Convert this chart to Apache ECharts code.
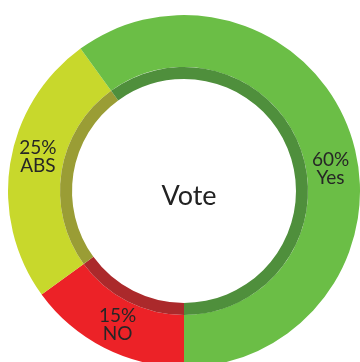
<!DOCTYPE html>
<html>
<head>
<meta charset="utf-8">
<script src="https://cdn.jsdelivr.net/npm/echarts@6/dist/echarts.min.js"></script>
<style>
  html, body { margin: 0; padding: 0; background: #fff; }
  #chart { width: 360px; height: 362px; }
</style>
</head>
<body>
<div id="chart"></div>
<script>
  // data
  const categories = ['NO', 'ABS', 'Yes'];
  const values = [15, 25, 60];
  const colors = ['#ec2227', '#c8d82c', '#6bbe46'];
  const shadeColors = ['#ab292b', '#9a9d35', '#4f8f3c'];
  const centerTitle = 'Vote';

  // label nudges so text sits like the original
  const labelShift = [
    { dx: 3, dy: -2 },
    { dx: 5, dy: -10 },
    { dx: 1, dy: 25 },
  ];

  const chart = echarts.init(document.getElementById('chart'));
  const center = [184, 191];

  const ringData = categories.map((name, i) => ({
    name,
    value: values[i],
    itemStyle: { color: colors[i] },
  }));

  const shadeData = categories.map((name, i) => ({
    name,
    value: values[i],
    itemStyle: { color: shadeColors[i] },
  }));

  chart.setOption({
    animation: false,
    title: {
      text: centerTitle,
      left: center[0],
      top: center[1],
      textAlign: 'center',
      textVerticalAlign: 'middle',
      textStyle: {
        fontFamily: 'Lato',
        fontWeight: 'normal',
        fontSize: 27,
        color: '#222',
      },
    },
    series: [
      {
        type: 'pie',
        center,
        radius: [124, 176],
        startAngle: -90,
        clockwise: true,
        silent: true,
        data: ringData,
        label: {
          show: true,
          position: 'inside',
          formatter: (p) => `${p.value}%\n${p.name}`,
          fontFamily: 'Lato',
          fontSize: 19,
          lineHeight: 18,
          color: '#262626',
        },
        labelLayout: (p) => labelShift[p.dataIndex],
        labelLine: { show: false },
      },
      {
        type: 'pie',
        center,
        radius: [112, 124],
        startAngle: -90,
        clockwise: true,
        silent: true,
        data: shadeData,
        label: { show: false },
        labelLine: { show: false },
      },
    ],
  });
</script>
</body>
</html>
